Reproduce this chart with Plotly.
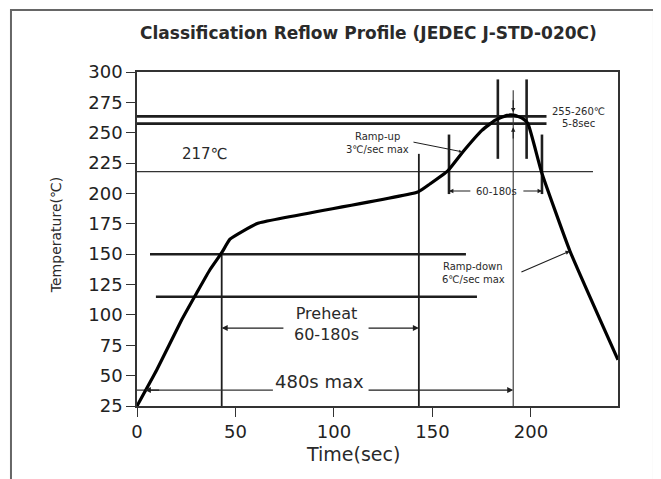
import plotly.graph_objects as go

# ---------------- data ----------------
profile_time = [0, 10.0, 22.7, 30.3, 37.1, 43.0, 47.2, 53.8, 61.4, 142.6, 148.7,
                157.9, 165.5, 175.1, 181.7, 187.8, 191.9, 195.9, 198.5, 205.4,
                219.8, 244.2]
profile_temp = [25, 54.6, 96.0, 118.1, 137.4, 151.2, 162.3, 169.0, 175.5, 201.2,
                207.8, 218.8, 234.3, 251.9, 260.2, 264.3, 264.3, 261.6, 257.5,
                217.5, 152.6, 63.0]

x_ticks = [0, 50, 100, 150, 200]
y_ticks = [25, 50, 75, 100, 125, 150, 175, 200, 225, 250, 275, 300]

peak_band_temps = [263.5, 257.5]
peak_band_end = 207.9
soak_temps = [150, 115]
soak_start = [6.6, 9.6]
soak_end = [167.0, 172.6]
liquidus_temp = 218
liquidus_end = 231.5

preheat_bounds = [43.0, 143.1]
preheat_tops = [151.2, 232.6]
max_time = 191.0
max_time_top = 285
peak_window = [183.2, 197.8]
peak_window_range = [228.5, 293.9]
liquidus_window = [158.4, 205.6]
liquidus_window_range = [199.5, 248.5]

preheat_arrow_temp = 89.2
max_arrow_temp = 38.1
window_arrow_temp = 202.0

INK = "#1e1e1e"
TXT = "#2a2a2a"
FONT = "DejaVu Sans"

fig = go.Figure()


def seg(xs, ys, width, color=INK):
    fig.add_trace(go.Scatter(x=xs, y=ys, mode="lines",
                             line=dict(color=color, width=width),
                             showlegend=False, hoverinfo="skip"))


# horizontal reference lines
for t in peak_band_temps:
    seg([0, peak_band_end], [t, t], 2.6)
for t, s, e in zip(soak_temps, soak_start, soak_end):
    seg([s, e], [t, t], 2.6)
seg([0, liquidus_end], [liquidus_temp, liquidus_temp], 1.2, "#333333")

# vertical lines
for x, top in zip(preheat_bounds, preheat_tops):
    seg([x, x], [25, top], 1.8)
seg([max_time, max_time], [25, max_time_top], 1.1, "#333333")
for x in peak_window:
    seg([x, x], peak_window_range, 2.6)
for x in liquidus_window:
    seg([x, x], liquidus_window_range, 2.6)

# arrow shaft without head
seg([0, 69], [max_arrow_temp, max_arrow_temp], 1.1, "#333333")

# the profile curve
fig.add_trace(go.Scatter(x=profile_time, y=profile_temp, mode="lines",
                         line=dict(color="#000000", width=3.2, shape="spline",
                                   smoothing=0.4),
                         showlegend=False, hoverinfo="skip"))

ann = []


def arrow(tx, ty, fx, fy, size=1.0, width=1.2):
    ann.append(dict(x=tx, y=ty, ax=fx, ay=fy, xref="x", yref="y",
                    axref="x", ayref="y", text="", showarrow=True,
                    arrowhead=2, arrowsize=size, arrowwidth=width,
                    arrowcolor=INK, standoff=0, startstandoff=0))


def label(x, y, text, size, ref="data", **kw):
    d = dict(x=x, y=y, text=text, showarrow=False,
             font=dict(family=FONT, size=size, color=TXT),
             xanchor="center", yanchor="middle")
    if ref == "paper":
        d.update(xref="paper", yref="paper")
    else:
        d.update(xref="x", yref="y")
    d.update(kw)
    ann.append(d)


# preheat arrows
arrow(preheat_bounds[0], preheat_arrow_temp, 75.1, preheat_arrow_temp)
arrow(preheat_bounds[1], preheat_arrow_temp, 116.8, preheat_arrow_temp)
# 480 s max arrows
arrow(4.0, max_arrow_temp, 12.0, max_arrow_temp)
arrow(max_time, max_arrow_temp, 116.8, max_arrow_temp)
# 60-180 s window arrows
arrow(liquidus_window[0], window_arrow_temp, 170.0, window_arrow_temp, 0.8, 1.1)
arrow(liquidus_window[1], window_arrow_temp, 195.4, window_arrow_temp, 0.8, 1.1)
# peak arrows
arrow(max_time, 266.8, max_time, 278.0, 0.8, 1.1)
arrow(max_time, 254.5, max_time, 244.0, 0.8, 1.1)
# ramp pointers
arrow(165.0, 234.3, 139.6, 242.5, 0.6, 1.0)
arrow(219.8, 152.6, 194.4, 134.7, 0.8, 1.1)

# texts
label(34.5, 232.6, "217℃", 15)
label(96.4, 92.7, "Preheat<br>60-180s", 16)
label(92.9, 45.0, "480s max", 18)
label(182.7, window_arrow_temp, "60-180s", 10)
label(122.1, 247.3, "Ramp-up", 10)
label(122.1, 236.5, "3℃/sec max", 10)
label(170.8, 140.2, "Ramp-down", 10)
label(170.8, 129.2, "6℃/sec max", 10)
label(224.1, 267.5, "255-260℃", 10)
label(224.1, 258.0, "5-8sec", 10)

# titles
label(0.481, 1.118, "<b>Classification Reflow Profile (JEDEC J-STD-020C)</b>", 17,
      ref="paper")
label(0.449, -0.143, "Time(sec)", 19, ref="paper")
label(-0.168, 0.512, "Temperature(℃)", 14, ref="paper", textangle=-90)

fig.update_layout(
    width=653, height=471,
    margin=dict(l=129, r=43, t=64, b=73),
    paper_bgcolor="white", plot_bgcolor="white",
    annotations=ann,
    shapes=[
        dict(type="line", xref="paper", yref="paper", x0=-0.2807, x1=-0.2807,
             y0=-0.26, y1=1.25, line=dict(color="#333333", width=2)),
        dict(type="rect", xref="paper", yref="paper", x0=-0.262, x1=1.0748,
             y0=-0.26, y1=1.1856, line=dict(color="#666666", width=2)),
    ],
    xaxis=dict(range=[0, 244.2], tickvals=x_ticks, ticks="outside", ticklen=9,
               tickwidth=1.4, tickcolor="#333333", showline=True,
               linecolor="#333333", linewidth=1.6, mirror=True, showgrid=False,
               zeroline=False,
               tickfont=dict(family=FONT, size=18, color="#222222")),
    yaxis=dict(range=[25, 300], tickvals=y_ticks, ticks="outside", ticklen=9,
               tickwidth=1.4, tickcolor="#333333", showline=True,
               linecolor="#333333", linewidth=1.6, mirror=True, showgrid=False,
               zeroline=False,
               tickfont=dict(family=FONT, size=18, color="#222222")),
)

fig.write_html("out.html")
